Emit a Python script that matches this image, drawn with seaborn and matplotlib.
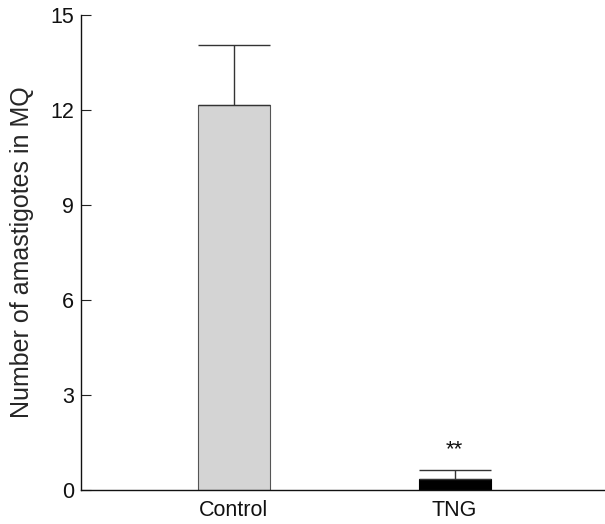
import matplotlib
matplotlib.use("Agg")
import matplotlib.pyplot as plt
import seaborn as sns
import pandas as pd

categories = ["Control", "TNG"]
means = [12.15, 0.35]
errors = [1.9, 0.28]
bar_colors = ["#d4d4d4", "#000000"]
yticks = [0, 3, 6, 9, 12, 15]
ylabel = "Number of amastigotes in MQ"
annotation = "**"

sns.set_theme(style="white")
plt.rcParams["font.family"] = ["Liberation Sans", "DejaVu Sans"]

fig = plt.figure(figsize=(6.05, 5.24), dpi=100)
ax = fig.add_axes([81/605, 1 - 490/524, (605-81)/605, (490-15)/524])

df = pd.DataFrame({"group": categories, "value": means})
sns.barplot(data=df, x="group", y="value", hue="group", palette=bar_colors,
            legend=False, errorbar=None, width=0.326, ax=ax,
            edgecolor="#555555", linewidth=0.8)
ax.patches[1].set_edgecolor("#000000")

capsize_pt = 0.326 * 221 / 2 * 72 / 100
ax.errorbar(range(len(categories)), means,
            yerr=[[0]*len(errors), errors], fmt="none",
            ecolor="#333333", elinewidth=1.0, capsize=capsize_pt, capthick=1.0)

ax.text(1, means[1] + errors[1] + 0.3, annotation, ha="center", va="bottom",
        fontsize=16, color="#111111")

ax.set_xlim(-0.69, 1.68)
ax.set_ylim(0, 15)
ax.set_yticks(yticks)
ax.set_yticklabels([str(t) for t in yticks])
ax.set_xlabel("")
ax.set_ylabel(ylabel, fontsize=18, labelpad=12)
ax.tick_params(axis="y", direction="in", length=7, width=0.8, pad=5,
               labelsize=15.5, left=True, colors="#222222")
ax.tick_params(axis="x", length=0, pad=7, labelsize=15.5)
for lab in ax.get_xticklabels() + ax.get_yticklabels():
    lab.set_color("#111111")

sns.despine(ax=ax)
for s in ["left", "bottom"]:
    ax.spines[s].set_color("#111111")
    ax.spines[s].set_linewidth(1.0)

fig.savefig("out.png", dpi=100)
